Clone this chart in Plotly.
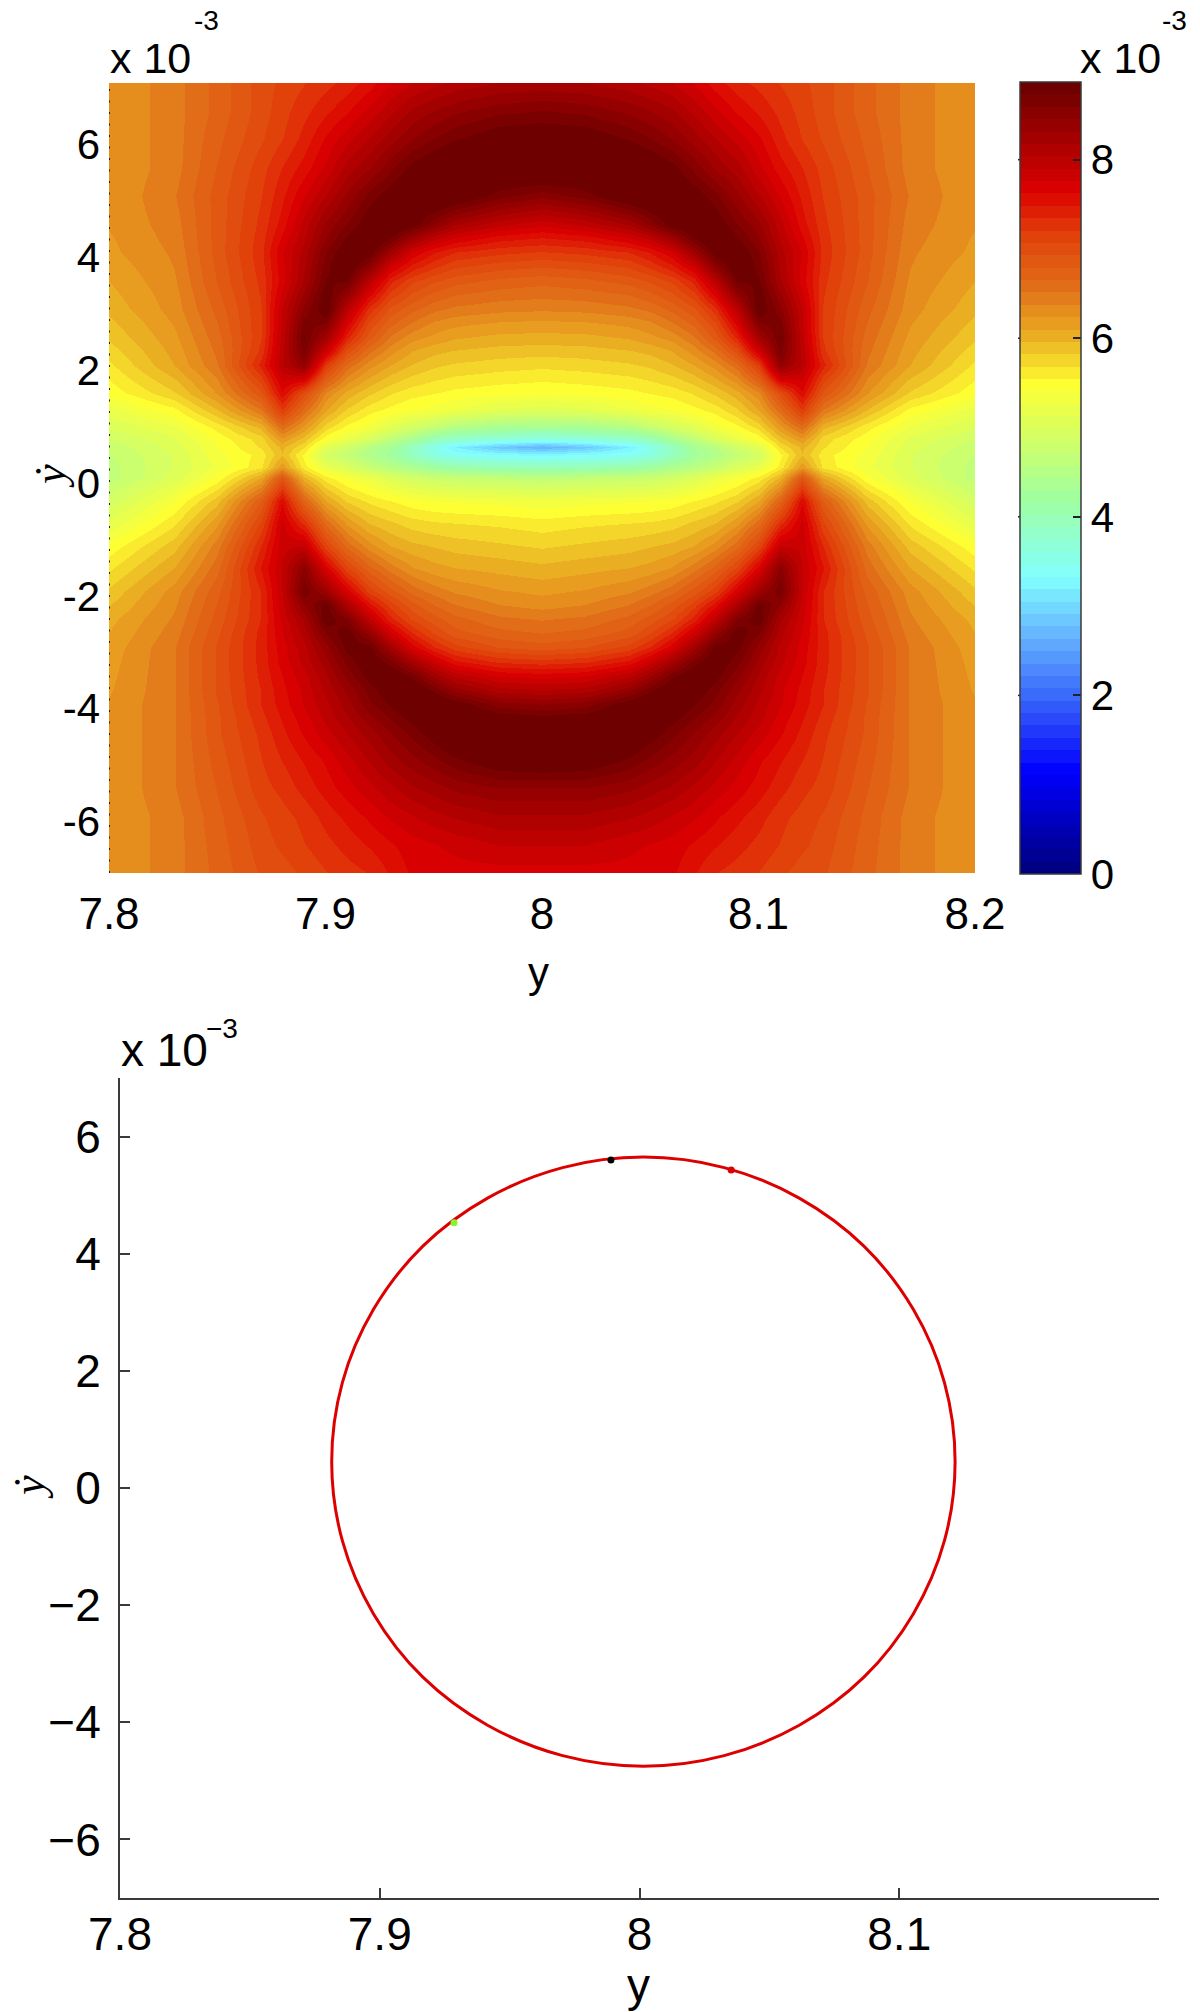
import plotly.graph_objects as go

W, H = 1200, 2012

# --- top panel: field values (x 10^-3), left half + centre column
x_half = [7.80, 7.83, 7.85, 7.87, 7.88, 7.89, 7.90, 7.91, 7.92, 7.93, 7.94, 7.95, 7.96, 7.98, 8.00]
y_rows = [7, 6.5, 6, 5.5, 5, 4.5, 4.25, 4, 3.75, 3.5, 3.25, 3, 2.75, 2.5, 2.25, 2, 1.5, 1.2, 0.9,
          0.7, 0.55, 0.4, 0.2, 0, -0.4, -0.8, -1.2, -1.6, -2, -2.25, -2.5, -2.75, -3, -3.25,
          -3.5, -3.75, -4, -4.25, -4.5, -5, -5.5, -6, -6.5, -7]
z_half = [
    [6.25, 6.45, 6.70, 7.00, 7.10, 7.20, 7.30, 7.40, 7.55, 7.75, 7.90, 8.00, 8.08, 8.18, 8.22],
    [6.25, 6.45, 6.70, 7.00, 7.15, 7.30, 7.45, 7.60, 7.80, 8.00, 8.20, 8.32, 8.42, 8.55, 8.60],
    [6.25, 6.45, 6.75, 7.05, 7.20, 7.40, 7.65, 7.85, 8.05, 8.25, 8.45, 8.60, 8.72, 8.88, 8.92],
    [6.25, 6.45, 6.80, 7.15, 7.35, 7.55, 7.80, 8.10, 8.30, 8.55, 8.80, 8.95, 9.05, 9.05, 9.05],
    [6.25, 6.50, 6.85, 7.20, 7.45, 7.75, 8.05, 8.35, 8.65, 8.85, 9.00, 9.05, 8.95, 8.65, 8.50],
    [6.25, 6.45, 6.85, 7.25, 7.55, 7.95, 8.35, 8.60, 8.87, 9.00, 8.85, 8.50, 8.20, 7.95, 7.80],
    [6.22, 6.43, 6.85, 7.28, 7.65, 8.02, 8.45, 8.75, 9.00, 8.75, 8.30, 7.95, 7.75, 7.55, 7.48],
    [6.20, 6.40, 6.85, 7.30, 7.75, 8.10, 8.60, 8.90, 8.85, 8.30, 7.75, 7.50, 7.35, 7.25, 7.20],
    [6.15, 6.38, 6.82, 7.28, 7.72, 8.15, 8.68, 8.95, 8.50, 7.80, 7.45, 7.25, 7.10, 7.00, 6.95],
    [6.10, 6.35, 6.80, 7.25, 7.70, 8.20, 8.75, 8.75, 8.00, 7.40, 7.10, 6.95, 6.85, 6.75, 6.70],
    [6.05, 6.32, 6.75, 7.22, 7.80, 8.35, 8.85, 8.40, 7.65, 7.15, 6.90, 6.75, 6.65, 6.58, 6.55],
    [6.00, 6.30, 6.70, 7.20, 7.90, 8.50, 8.90, 8.00, 7.30, 6.90, 6.70, 6.55, 6.48, 6.42, 6.40],
    [5.92, 6.25, 6.65, 7.20, 7.92, 8.65, 8.60, 7.70, 7.05, 6.70, 6.50, 6.35, 6.28, 6.22, 6.20],
    [5.85, 6.20, 6.60, 7.20, 7.95, 8.75, 8.25, 7.40, 6.85, 6.50, 6.30, 6.20, 6.12, 6.06, 6.05],
    [5.75, 6.15, 6.55, 7.25, 8.00, 8.65, 7.80, 7.00, 6.55, 6.30, 6.10, 6.00, 5.95, 5.90, 5.88],
    [5.65, 6.10, 6.50, 7.40, 8.00, 8.45, 7.20, 6.60, 6.30, 6.10, 5.95, 5.85, 5.80, 5.75, 5.72],
    [5.45, 5.80, 6.25, 6.90, 7.60, 7.00, 6.35, 6.05, 5.85, 5.70, 5.60, 5.55, 5.50, 5.45, 5.42],
    [5.20, 5.50, 5.95, 6.50, 7.20, 6.60, 6.10, 5.80, 5.60, 5.50, 5.40, 5.35, 5.25, 5.10, 5.05],
    [5.00, 5.25, 5.60, 6.00, 6.60, 6.20, 5.75, 5.50, 5.35, 5.10, 4.90, 4.70, 4.50, 4.35, 4.30],
    [4.85, 5.10, 5.45, 5.75, 6.20, 5.90, 5.45, 5.20, 4.95, 4.65, 4.35, 4.00, 3.80, 3.65, 3.55],
    [4.75, 5.05, 5.40, 5.70, 6.00, 5.70, 5.10, 4.85, 4.55, 4.30, 3.90, 3.50, 3.20, 2.85, 2.65],
    [4.70, 5.00, 5.35, 5.60, 5.95, 5.50, 4.90, 4.70, 4.45, 4.25, 3.90, 3.60, 3.45, 3.35, 3.30],
    [4.65, 5.00, 5.30, 5.65, 6.20, 5.60, 5.20, 5.00, 4.75, 4.55, 4.40, 4.20, 4.10, 4.00, 3.95],
    [4.65, 5.05, 5.45, 6.10, 6.90, 6.00, 5.60, 5.40, 5.25, 5.05, 4.90, 4.80, 4.75, 4.70, 4.65],
    [4.90, 5.40, 5.90, 6.80, 7.60, 6.70, 6.10, 5.80, 5.65, 5.55, 5.45, 5.40, 5.38, 5.35, 5.30],
    [5.15, 5.65, 6.20, 7.10, 7.80, 7.30, 6.60, 6.20, 5.95, 5.85, 5.75, 5.70, 5.68, 5.65, 5.60],
    [5.45, 5.90, 6.45, 7.35, 7.85, 7.90, 7.10, 6.60, 6.30, 6.10, 6.00, 5.95, 5.90, 5.85, 5.80],
    [5.65, 6.10, 6.60, 7.50, 7.90, 8.50, 7.70, 7.10, 6.70, 6.45, 6.25, 6.15, 6.10, 6.05, 6.00],
    [5.85, 6.30, 6.75, 7.35, 7.90, 8.70, 8.30, 7.70, 7.15, 6.85, 6.60, 6.45, 6.35, 6.25, 6.20],
    [5.95, 6.35, 6.80, 7.35, 7.85, 8.45, 8.80, 8.15, 7.55, 7.15, 6.85, 6.65, 6.52, 6.38, 6.32],
    [6.05, 6.40, 6.85, 7.35, 7.80, 8.20, 8.85, 8.60, 7.95, 7.40, 7.05, 6.85, 6.70, 6.55, 6.50],
    [6.10, 6.45, 6.90, 7.40, 7.75, 8.10, 8.60, 8.85, 8.40, 7.80, 7.35, 7.05, 6.85, 6.70, 6.65],
    [6.15, 6.50, 6.95, 7.40, 7.70, 8.00, 8.40, 8.80, 8.80, 8.25, 7.70, 7.35, 7.12, 6.92, 6.85],
    [6.18, 6.50, 6.95, 7.40, 7.68, 7.95, 8.28, 8.65, 8.90, 8.65, 8.20, 7.80, 7.50, 7.30, 7.25],
    [6.20, 6.50, 6.95, 7.38, 7.62, 7.85, 8.15, 8.50, 8.80, 8.95, 8.70, 8.30, 8.00, 7.75, 7.70],
    [6.22, 6.50, 6.95, 7.35, 7.58, 7.80, 8.08, 8.35, 8.65, 8.88, 8.95, 8.70, 8.40, 8.10, 8.05],
    [6.25, 6.50, 6.92, 7.35, 7.55, 7.78, 8.00, 8.25, 8.55, 8.75, 8.95, 9.00, 8.85, 8.52, 8.45],
    [6.25, 6.50, 6.90, 7.30, 7.50, 7.70, 7.95, 8.15, 8.40, 8.60, 8.80, 8.95, 9.00, 8.85, 8.80],
    [6.25, 6.50, 6.90, 7.25, 7.45, 7.65, 7.85, 8.05, 8.25, 8.45, 8.65, 8.85, 9.05, 9.05, 9.05],
    [6.25, 6.50, 6.85, 7.20, 7.35, 7.50, 7.65, 7.85, 8.05, 8.25, 8.40, 8.55, 8.70, 8.90, 8.95],
    [6.25, 6.50, 6.80, 7.15, 7.25, 7.40, 7.55, 7.70, 7.85, 8.00, 8.15, 8.25, 8.35, 8.45, 8.45],
    [6.25, 6.45, 6.75, 7.05, 7.15, 7.25, 7.40, 7.52, 7.65, 7.78, 7.88, 7.98, 8.05, 8.15, 8.15],
    [6.25, 6.45, 6.72, 7.00, 7.10, 7.20, 7.30, 7.40, 7.50, 7.60, 7.70, 7.75, 7.80, 7.90, 7.90],
    [6.25, 6.45, 6.70, 6.95, 7.00, 7.10, 7.20, 7.28, 7.35, 7.50, 7.65, 7.68, 7.70, 7.70, 7.70],
]

# --- bottom panel: closed curve and three dots
orbit_y = [8.1215, 8.1174, 8.1054, 8.0864, 8.0615, 8.0326, 8.0015, 7.9704, 7.9415, 7.9166,
           7.8976, 7.8856, 7.8815, 7.8856, 7.8976, 7.9166, 7.9415, 7.9704, 8.0015, 8.0326,
           8.0615, 8.0864, 8.1054, 8.1174, 8.1215]
orbit_ydot = [0.45, 1.80, 3.05, 4.13, 4.95, 5.47, 5.65, 5.47, 4.95, 4.13,
              3.05, 1.80, 0.45, -0.90, -2.15, -3.23, -4.05, -4.57, -4.75, -4.57,
              -4.05, -3.23, -2.15, -0.90, 0.45]
dot_y = [7.9286, 7.989, 8.0353]
dot_ydot = [4.53, 5.60, 5.43]
dot_colors = ["#86f52e", "#000000", "#dd0000"]

x_ticks_top = [7.8, 7.9, 8, 8.1, 8.2]
x_labels_top = ["7.8", "7.9", "8", "8.1", "8.2"]
y_ticks = [-6, -4, -2, 0, 2, 4, 6]
y_labels_top = ["-6", "-4", "-2", "0", "2", "4", "6"]
y_labels_bottom = ["\u22126", "\u22124", "\u22122", "0", "2", "4", "6"]
x_ticks_bottom = [7.8, 7.9, 8, 8.1]
x_labels_bottom = ["7.8", "7.9", "8", "8.1"]
cbar_ticks = [0, 2, 4, 6, 8]
cbar_labels = ["0", "2", "4", "6", "8"]

# colormap anchors as seen on the colour bar
ZMAX = 8.87
cmap_vals = [0, 1.1, 1.5, 2.0, 2.6, 3.3, 4.2, 5.5, 6.0, 6.6, 7.2, 7.7, 8.87]
cmap_rgb = [(0, 0, 130), (0, 0, 255), (30, 50, 250), (60, 110, 250), (100, 175, 255),
            (130, 255, 255), (160, 255, 160), (255, 255, 50), (235, 180, 35),
            (225, 110, 25), (225, 65, 10), (220, 0, 0), (110, 0, 0)]


def band_color(v):
    for i in range(len(cmap_vals) - 1):
        if v <= cmap_vals[i + 1]:
            t = (v - cmap_vals[i]) / (cmap_vals[i + 1] - cmap_vals[i])
            a, b = cmap_rgb[i], cmap_rgb[i + 1]
            return "rgb(%d,%d,%d)" % tuple(round(a[k] + t * (b[k] - a[k])) for k in range(3))
    return "rgb(%d,%d,%d)" % cmap_rgb[-1]


N = 64
colorscale = []
for i in range(N):
    c = band_color(ZMAX * i / (N - 1))
    colorscale.append([i / N, c])
    colorscale.append([(i + 1) / N, c])

x_full = x_half + [round(16 - v, 2) for v in reversed(x_half[:-1])]
z_full = [row + list(reversed(row[:-1])) for row in z_half]


def px(v):
    return v / W


def py(v):
    return 1 - v / H


# panel rectangles in pixels
T = dict(l=109, r=975, t=83, b=873)
B = dict(l=120, r=1159, t=1078, b=1898)
CB = dict(l=1020, r=1081, t=82, b=874)
INK = "#3a3a3a"
SANS = "Liberation Sans, Arial, sans-serif"
SERIF = "Liberation Serif, serif"

fig = go.Figure()
fig.add_trace(go.Heatmap(
    x=x_full, y=y_rows, z=z_full, zmin=0, zmax=ZMAX, zsmooth="best",
    colorscale=colorscale, xaxis="x", yaxis="y", hoverinfo="skip",
    colorbar=dict(
        thicknessmode="pixels", thickness=CB["r"] - CB["l"],
        lenmode="pixels", len=CB["b"] - CB["t"],
        x=px(CB["l"]), xanchor="left", xpad=0,
        y=py(CB["b"]), yanchor="bottom", ypad=0,
        outlinecolor=INK, outlinewidth=1.5,
        tickmode="array", tickvals=cbar_ticks, ticktext=cbar_labels,
        ticks="inside", ticklen=8, tickwidth=1.5, tickcolor="#222",
        tickfont=dict(family=SANS, size=42, color="#000"),
    ),
))
fig.add_trace(go.Scatter(
    x=orbit_y, y=orbit_ydot, mode="lines", xaxis="x2", yaxis="y2",
    line=dict(color="#dd0000", width=3, shape="spline", smoothing=1.0),
    showlegend=False, hoverinfo="skip",
))
fig.add_trace(go.Scatter(
    x=dot_y, y=dot_ydot, mode="markers", xaxis="x2", yaxis="y2",
    marker=dict(color=dot_colors, size=7), showlegend=False, hoverinfo="skip",
))

shapes = [dict(type="line", xref="x", yref="y", x0=7.8, x1=7.8, y0=-7, y1=7,
               line=dict(color="#222", width=2, dash="2px,9.5px"), layer="above")]
span = CB["b"] - CB["t"]
for v in cbar_ticks[1:]:
    yy = CB["b"] - span * v / ZMAX
    shapes.append(dict(type="line", xref="paper", yref="paper",
                       x0=px(CB["l"] - 2), x1=px(CB["l"] + 7), y0=py(yy), y1=py(yy),
                       line=dict(color="#222", width=1.5), layer="above"))


def note(text, x, y, size, angle=0, family=SANS, xanchor="left"):
    return dict(text=text, xref="paper", yref="paper", x=px(x), y=py(y),
                xanchor=xanchor, yanchor="middle", showarrow=False, textangle=angle,
                borderpad=0, font=dict(family=family, size=size, color="#000"))


annotations = [
    note("x 10", 109, 58, 43),
    note("-3", 193, 21, 28),
    note("x 10", 1079, 58, 43),
    note("-3", 1161, 21, 28),
    note("y", 538, 972, 42, xanchor="center"),
    note("<i>\u1e8f</i>", 50, 476, 44, angle=-90, family=SERIF, xanchor="center"),
    note("x 10", 120, 1050, 46),
    note("\u22123", 205, 1028, 28),
    note("y", 638, 1985, 46, xanchor="center"),
    note("<i>\u1e8f</i>", 29, 1487, 44, angle=-90, family=SERIF, xanchor="center"),
]

fig.update_layout(
    width=W, height=H, margin=dict(l=0, r=0, t=0, b=0, pad=0, autoexpand=False),
    paper_bgcolor="white", plot_bgcolor="white", showlegend=False,
    shapes=shapes, annotations=annotations,
    xaxis=dict(domain=[px(T["l"]), px(T["r"])], range=[7.8, 8.2], anchor="y",
               tickmode="array", tickvals=x_ticks_top, ticktext=x_labels_top,
               ticks="", showgrid=False, zeroline=False, showline=False, ticklabelstandoff=11,
               automargin=False, tickfont=dict(family=SANS, size=44, color="#000")),
    yaxis=dict(domain=[py(T["b"]), py(T["t"])], range=[-7, 7], anchor="x",
               tickmode="array", tickvals=y_ticks, ticktext=y_labels_top,
               ticks="", showgrid=False, zeroline=False, showline=False, ticklabelstandoff=8,
               ticklabelshift=5, automargin=False,
               tickfont=dict(family=SANS, size=42, color="#000")),
    xaxis2=dict(domain=[px(B["l"]), px(B["r"])], range=[7.8, 8.2], anchor="y2",
                tickmode="array", tickvals=x_ticks_bottom, ticktext=x_labels_bottom,
                ticks="inside", ticklen=10, tickwidth=1.5, tickcolor=INK,
                showline=True, linecolor=INK, linewidth=2, showgrid=False, zeroline=False,
                ticklabelstandoff=-5, automargin=False,
                tickfont=dict(family=SANS, size=46, color="#000")),
    yaxis2=dict(domain=[py(B["b"]), py(B["t"])], range=[-7, 7], anchor="x2",
                tickmode="array", tickvals=y_ticks, ticktext=y_labels_bottom,
                ticks="inside", ticklen=10, tickwidth=1.5, tickcolor=INK,
                showline=True, linecolor=INK, linewidth=2, showgrid=False, zeroline=False,
                ticklabelstandoff=8, automargin=False,
                tickfont=dict(family=SANS, size=46, color="#000")),
)

fig.write_html("out.html", config={"displayModeBar": False},
               post_script="document.body.style.margin='0';")
